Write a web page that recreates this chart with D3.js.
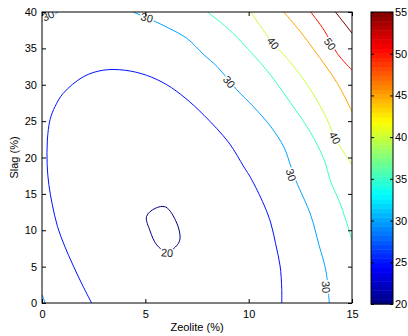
<!DOCTYPE html>
<html><head><meta charset="utf-8">
<script src="https://cdn.jsdelivr.net/npm/d3@7"></script>
<style>body{margin:0;background:#fff} text{font-family:"Liberation Sans",Arial,sans-serif}</style>
</head><body><svg id="c" width="408" height="336"></svg>
<script>
// ---- data ----
const xTicks = [0, 5, 10, 15];
const yTicks = [0, 5, 10, 15, 20, 25, 30, 35, 40];
const cbTicks = [20, 25, 30, 35, 40, 45, 50, 55];
const xLabel = "Zeolite (%)";
const yLabel = "Slag (%)";

// contour lines, [zeolite, slag] points
const line20 = [[5.06,11.9],[5.47,13.0],[5.98,13.2],[6.52,11.0],[6.68,8.9],[6.55,8.0],[6.05,7.0],[5.55,8.0],[5.23,9.9]];
const line25 = [[2.4,0],[1.95,2.5],[1.5,5.2],[1.1,7.8],[0.75,10.5],[0.5,13.5],[0.33,16.3],[0.25,19],[0.26,22.4],[0.39,25.2],[0.63,27],[1.02,28.8],[2.0,31.1],[2.96,32.0],[4.0,32.0],[5.06,31.3],[6.04,30.0],[6.92,28.2],[7.84,25.8],[9.05,22.0],[9.77,18.7],[10.1,17.2],[10.74,13.5],[11.07,11.0],[11.3,8.2],[11.52,5.1],[11.6,2],[11.6,0]];
const line30a = [[0,38.7],[0.3,39.3],[0.8,40]];
const line30b = [[4.4,40],[5.08,39.2],[6.05,37.9],[7.0,36.4],[7.84,34.1],[8.47,32.5],[9.43,29.3],[10.26,26.9],[11.08,24.2],[11.71,21.4],[12.05,18.7],[12.29,16.8],[13.0,12.1],[13.4,8.0],[13.74,4.4],[13.9,0]];
const line30c = [[0,1.15],[0.15,0]];
const line35 = [[8.0,40],[8.97,37.8],[9.94,35.0],[11.07,31.3],[12.03,27.5],[13.0,23.4],[13.65,19.7],[13.97,16.7],[14.45,13.5],[15,8.7]];
const line40 = [[10.1,40],[11.18,35.7],[11.87,33.6],[13.0,29.3],[13.8,25.2],[14.17,22.7],[15,19.0]];
const line45 = [[11.7,40],[12.5,37.3],[13.16,34.8],[14.29,30.2],[15,26.3]];
const line50 = [[13.0,40],[13.65,37.5],[14.29,34.3],[15,32.0]];
const line55 = [[14.2,40],[15,37.1]];

const labelText = ["30","30","30","40","50","40","30","30","20"];
const labelPos = [[0.3,39.5],[5.08,39.2],[9.05,30.4],[11.18,35.7],[13.93,35.6],[14.17,22.7],[12.05,17.6],[13.74,2.2],[6.05,6.9]];
const labelAngle = [-25, 14, 52, 50, 55, 62, 72, 86, 4];

const contours = [
  {level:20, pts:line20, closed:true},
  {level:25, pts:line25},
  {level:30, pts:line30a},
  {level:30, pts:line30b},
  {level:30, pts:line30c},
  {level:35, pts:line35},
  {level:40, pts:line40},
  {level:45, pts:line45},
  {level:50, pts:line50},
  {level:55, pts:line55}
];

// ---- drawing ----
const svg = d3.select("#c");
svg.append("rect").attr("width",408).attr("height",336).attr("fill","#fff");
const L=42, R=352, T=12, B=303;
const x = d3.scaleLinear().domain([0,15]).range([L,R]);
const y = d3.scaleLinear().domain([0,40]).range([B,T]);

function jet(t){
  const c = v => Math.max(0, Math.min(1, v));
  const r = c(Math.min(4*t-1.5, -4*t+4.5));
  const g = c(Math.min(4*t-0.5, -4*t+3.5));
  const b = c(Math.min(4*t+0.5, -4*t+2.5));
  return d3.rgb(r*255, g*255, b*255).toString();
}
const cmin=20, cmax=55;
const colorOf = v => jet((v-cmin)/(cmax-cmin));

svg.append("clipPath").attr("id","clip").append("rect")
  .attr("x",L).attr("y",T).attr("width",R-L).attr("height",B-T);

const g = svg.append("g").attr("clip-path","url(#clip)");
contours.forEach(c=>{
  const ln = d3.line().x(d=>x(d[0])).y(d=>y(d[1]))
    .curve(c.closed ? d3.curveCatmullRomClosed.alpha(0.5) : d3.curveCatmullRom.alpha(0.5));
  g.append("path").attr("d", ln(c.pts)).attr("fill","none")
    .attr("stroke", colorOf(c.level)).attr("stroke-width",1);
});

// contour labels
labelText.forEach((t,i)=>{
  g.append("text").attr("transform",`translate(${x(labelPos[i][0])},${y(labelPos[i][1])}) rotate(${labelAngle[i]})`)
    .attr("text-anchor","middle").attr("dy","0.35em")
    .attr("font-size",11).attr("fill","#222")
    .attr("stroke","#fff").attr("stroke-width",3).attr("paint-order","stroke")
    .text(t);
});

// axes
const fs = 11;
const ax = svg.append("g").attr("transform",`translate(0,${B})`)
  .call(d3.axisBottom(x).tickValues(xTicks).tickSizeInner(-4).tickSizeOuter(0).tickPadding(7).tickFormat(d3.format("d")));
const axT = svg.append("g").attr("transform",`translate(0,${T})`)
  .call(d3.axisTop(x).tickValues(xTicks).tickSizeInner(-4).tickSizeOuter(0).tickFormat(""));
const ay = svg.append("g").attr("transform",`translate(${L},0)`)
  .call(d3.axisLeft(y).tickValues(yTicks).tickSizeInner(-4).tickSizeOuter(0).tickPadding(5).tickFormat(d3.format("d")));
const ayR = svg.append("g").attr("transform",`translate(${R},0)`)
  .call(d3.axisRight(y).tickValues(yTicks).tickSizeInner(-4).tickSizeOuter(0).tickFormat(""));
[ax,axT,ay,ayR].forEach(a=>{
  a.select(".domain").remove();
  a.selectAll("line").attr("stroke","#000");
  a.selectAll("text").attr("font-size",fs).attr("fill","#000").attr("font-family",null);
});
svg.append("rect").attr("x",L).attr("y",T).attr("width",R-L).attr("height",B-T)
  .attr("fill","none").attr("stroke","#000").attr("stroke-width",1);

svg.append("text").attr("x",(L+R)/2).attr("y",331).attr("text-anchor","middle")
  .attr("font-size",fs).text(xLabel);
svg.append("text").attr("transform",`translate(18,${(T+B)/2}) rotate(-90)`).attr("text-anchor","middle")
  .attr("font-size",fs).text(yLabel);

// colorbar
const CL=371, CR=393, CT=12, CB=304;
const cy = d3.scaleLinear().domain([cmin,cmax]).range([CB,CT]);
const nBands = 64;
const bands = d3.range(nBands);
svg.append("g").selectAll("rect").data(bands).join("rect")
  .attr("x",CL).attr("width",CR-CL)
  .attr("y",d=>cy(cmin+(d+1)*(cmax-cmin)/nBands))
  .attr("height",d=>cy(cmin+d*(cmax-cmin)/nBands)-cy(cmin+(d+1)*(cmax-cmin)/nBands)+0.5)
  .attr("fill",d=>jet((d+0.5)/nBands));
const cax = svg.append("g").attr("transform",`translate(${CR},0)`)
  .call(d3.axisRight(cy).tickValues(cbTicks).tickSizeInner(-3).tickSizeOuter(0).tickPadding(2).tickFormat(d3.format("d")));
const caxL = svg.append("g").attr("transform",`translate(${CL},0)`)
  .call(d3.axisLeft(cy).tickValues(cbTicks).tickSizeInner(-3).tickSizeOuter(0).tickFormat(""));
[cax,caxL].forEach(a=>{
  a.select(".domain").remove();
  a.selectAll("line").attr("stroke","#000");
  a.selectAll("text").attr("font-size",fs).attr("fill","#000").attr("font-family",null);
});
svg.append("rect").attr("x",CL).attr("y",CT).attr("width",CR-CL).attr("height",CB-CT)
  .attr("fill","none").attr("stroke","#000").attr("stroke-width",1);
</script></body></html>
